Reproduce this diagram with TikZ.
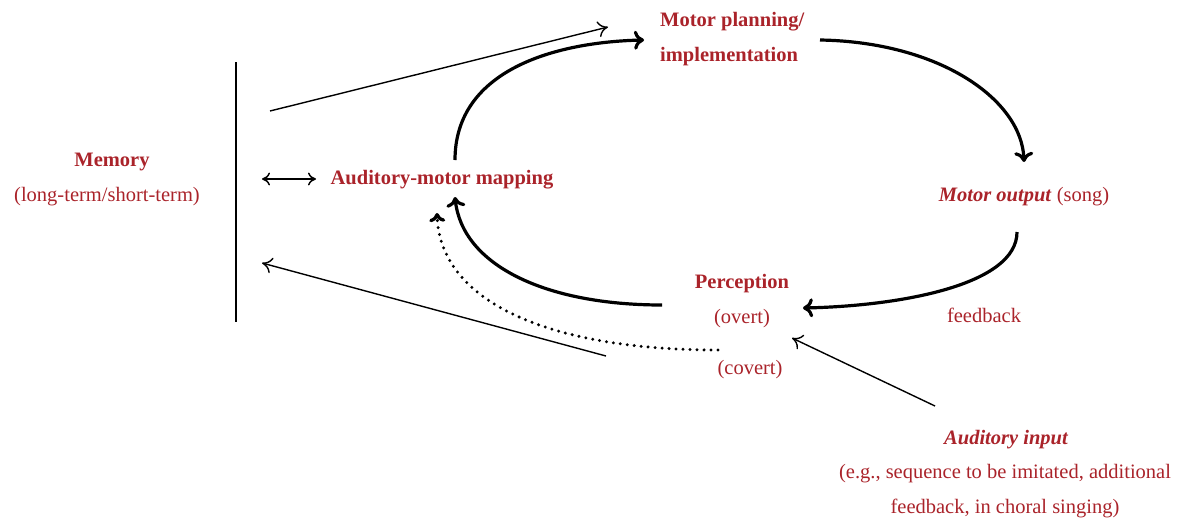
\documentclass[tikz,border=0pt]{standalone}
\usepackage{fontspec}
\setmainfont{Liberation Serif}
\usetikzlibrary{arrows.meta}
\definecolor{lab}{RGB}{170,35,42}
\begin{document}
\begin{tikzpicture}[x=1pt,y=-1pt,
  lbl/.style={text=lab, font=\fontsize{20.5}{25}\selectfont, inner sep=0pt, anchor=base},
  thk/.style={line width=3.2pt, -{To[length=10pt,width=19pt]}},
  thn/.style={line width=1.4pt, -{To[length=10pt,width=16pt]}},
  dotarrow/.style={line width=3.3pt, line cap=round, dash pattern=on 0pt off 7pt, -{To[length=9pt,width=16pt]}},
  barline/.style={line width=2pt}]
\useasboundingbox (0,0) rectangle (1180,520);
% labels
\node[lbl] (mem) at (112,166) {\bfseries Memory};
\node[lbl] (memsub) at (107,201) {(long-term/short-term)};
\node[lbl] (amm) at (442,184) {\bfseries Auditory-motor mapping};
\node[lbl, anchor=base west] (mp1) at (660,26) {\bfseries Motor planning/};
\node[lbl, anchor=base west] (mp2) at (660,61) {\bfseries implementation};
\node[lbl] (mo) at (1024,201) {\bfseries\itshape Motor output\/\mdseries\upshape{} (song)};
\node[lbl] (perc) at (742,288) {\bfseries Perception};
\node[lbl] (overt) at (742,323) {(overt)};
\node[lbl] (covert) at (750,374) {(covert)};
\node[lbl] (fb) at (984,322) {feedback};
\node[lbl] (ai) at (1006,444) {\bfseries\itshape Auditory input};
\node[lbl] (ai2) at (1005,478) {(e.g., sequence to be imitated, additional};
\node[lbl] (ai3) at (1005,513) {feedback, in choral singing)};
% connector end points
\coordinate (bartop) at (236,62);
\coordinate (barbot) at (236,322);
\coordinate (dA) at (262,179);
\coordinate (dB) at (316,179);
\coordinate (memout) at (270,111);
\coordinate (mpin) at (608,27);
\coordinate (ammtop) at (455,160);
\coordinate (mpleft) at (644,40);
\coordinate (mpright) at (820,40);
\coordinate (motop) at (1024,162);
\coordinate (mobot) at (1017,232);
\coordinate (percright) at (803,308);
\coordinate (percleft) at (662,305);
\coordinate (ammbot) at (455,197);
\coordinate (covleft) at (718,350);
\coordinate (ammbot2) at (437,213);
\coordinate (covin) at (606,356);
\coordinate (memin) at (262,263);
\coordinate (aiout) at (935,406);
\coordinate (overtin) at (792,338);
% connectors
\draw[barline] (bartop) -- (barbot);
\draw[line width=1.5pt, {To[length=8pt,width=13pt]}-{To[length=8pt,width=13pt]}] (dA) -- (dB);
\draw[thn] (memout) -- (mpin);
\draw[thk] (ammtop) .. controls (455,70) and (555,42) .. (mpleft);
\draw[thk] (mpright) .. controls (940,42) and (1022,100) .. (motop);
\draw[thk] (mobot) .. controls (1017,285) and (900,306) .. (percright);
\draw[thk] (percleft) .. controls (545,305) and (462,265) .. (ammbot);
\draw[dotarrow] (covleft) .. controls (545,350) and (440,300) .. (ammbot2);
\draw[thn] (covin) -- (memin);
\draw[thn] (aiout) -- (overtin);
\end{tikzpicture}
\end{document}
